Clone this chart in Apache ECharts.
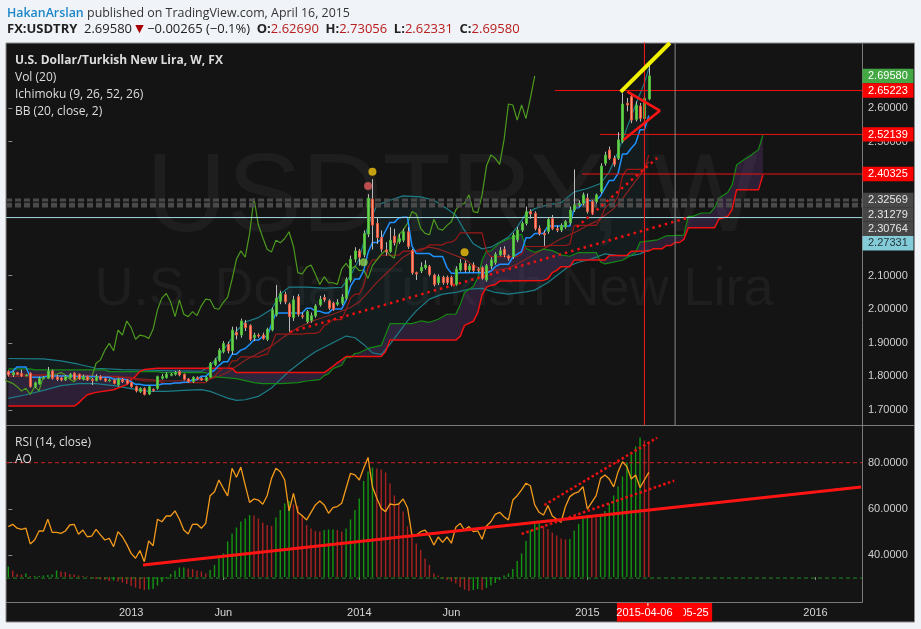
<!DOCTYPE html>
<html>
<head>
<meta charset="utf-8">
<title>USDTRY weekly</title>
<script src="https://cdn.jsdelivr.net/npm/echarts@6/dist/echarts.min.js"></script>
<style>
html,body{margin:0;padding:0;width:921px;height:629px;overflow:hidden;background:#f0f3f7;}
#chart{width:921px;height:629px;}
</style>
</head>
<body>
<div id="chart"></div>
<script>
// ================= DATA (weekly bars, index 0 = first visible week) =================
const opens = [1.814,1.804,1.811,1.808,1.802,1.809,1.769,1.777,1.793,1.794,1.816,1.798,1.795,1.789,1.796,1.809,1.806,1.792,1.799,1.791,1.787,1.799,1.793,1.787,1.789,1.774,1.791,1.789,1.781,1.769,1.754,1.764,1.747,1.761,1.764,1.794,1.796,1.803,1.806,1.814,1.806,1.792,1.784,1.796,1.794,1.787,1.797,1.834,1.847,1.873,1.895,1.876,1.931,1.923,1.958,1.951,1.915,1.923,1.923,1.910,1.938,1.983,2.023,2.044,2.015,1.975,2.037,1.981,1.963,1.966,1.980,2.013,2.035,2.025,2.018,2.015,2.018,2.033,2.087,2.149,2.174,2.162,2.224,2.328,2.256,2.214,2.177,2.172,2.218,2.201,2.206,2.231,2.175,2.109,2.114,2.124,2.127,2.102,2.079,2.095,2.095,2.095,2.074,2.117,2.137,2.117,2.132,2.119,2.124,2.087,2.129,2.139,2.162,2.179,2.159,2.157,2.207,2.236,2.256,2.291,2.286,2.241,2.226,2.232,2.270,2.240,2.236,2.245,2.258,2.296,2.311,2.316,2.331,2.321,2.321,2.351,2.435,2.475,2.450,2.450,2.500,2.614,2.634,2.566,2.606,2.569,2.6269];
const highs = [1.818,1.816,1.813,1.820,1.806,1.812,1.784,1.799,1.800,1.828,1.820,1.804,1.798,1.803,1.810,1.812,1.808,1.805,1.802,1.795,1.806,1.803,1.796,1.793,1.792,1.796,1.795,1.792,1.784,1.772,1.767,1.767,1.772,1.764,1.802,1.806,1.812,1.810,1.816,1.819,1.808,1.795,1.800,1.800,1.797,1.800,1.843,1.855,1.884,1.905,1.903,1.948,1.948,1.972,1.968,1.955,1.930,1.928,1.930,1.945,2.005,2.072,2.055,2.052,2.020,2.040,2.045,1.990,1.998,1.990,2.015,2.040,2.044,2.030,2.022,2.030,2.045,2.095,2.160,2.185,2.180,2.235,2.343,2.388,2.275,2.235,2.200,2.245,2.240,2.225,2.240,2.245,2.180,2.112,2.140,2.146,2.132,2.106,2.104,2.100,2.100,2.100,2.128,2.150,2.145,2.135,2.140,2.125,2.128,2.135,2.155,2.170,2.185,2.188,2.163,2.228,2.245,2.262,2.306,2.298,2.292,2.250,2.235,2.275,2.281,2.250,2.256,2.266,2.306,2.417,2.325,2.348,2.345,2.325,2.345,2.435,2.470,2.485,2.458,2.528,2.644,2.630,2.640,2.620,2.615,2.640,2.73056];
const lows = [1.800,1.798,1.803,1.798,1.800,1.766,1.765,1.775,1.791,1.792,1.790,1.786,1.785,1.786,1.793,1.788,1.789,1.788,1.786,1.774,1.785,1.788,1.783,1.784,1.776,1.770,1.780,1.776,1.766,1.752,1.750,1.743,1.744,1.754,1.760,1.790,1.793,1.800,1.802,1.800,1.788,1.781,1.780,1.789,1.786,1.784,1.794,1.830,1.843,1.868,1.868,1.865,1.910,1.915,1.935,1.905,1.905,1.915,1.909,1.905,1.934,1.978,2.015,2.015,1.933,1.965,1.978,1.972,1.958,1.960,1.975,2.008,2.022,1.998,1.995,2.010,2.012,2.028,2.080,2.140,2.130,2.155,2.215,2.178,2.195,2.170,2.160,2.168,2.190,2.195,2.200,2.180,2.103,2.087,2.108,2.118,2.098,2.068,2.072,2.073,2.073,2.068,2.070,2.112,2.110,2.110,2.110,2.110,2.088,2.082,2.120,2.133,2.158,2.155,2.145,2.150,2.200,2.230,2.250,2.270,2.235,2.220,2.189,2.225,2.236,2.230,2.230,2.240,2.252,2.290,2.305,2.310,2.285,2.282,2.315,2.345,2.428,2.445,2.425,2.445,2.495,2.590,2.555,2.560,2.560,2.560,2.62331];
const closes = [1.804,1.811,1.806,1.801,1.804,1.769,1.781,1.794,1.796,1.816,1.794,1.791,1.789,1.799,1.806,1.791,1.792,1.800,1.789,1.787,1.799,1.791,1.786,1.789,1.779,1.792,1.784,1.779,1.769,1.756,1.764,1.746,1.769,1.757,1.799,1.799,1.806,1.806,1.811,1.804,1.791,1.784,1.797,1.792,1.789,1.797,1.839,1.849,1.878,1.898,1.876,1.938,1.923,1.965,1.945,1.910,1.923,1.920,1.913,1.940,1.998,2.033,2.047,2.022,1.978,2.028,1.985,1.978,1.993,1.981,2.010,2.030,2.028,2.003,2.000,2.020,2.036,2.089,2.149,2.174,2.155,2.226,2.331,2.251,2.214,2.179,2.171,2.206,2.198,2.211,2.231,2.187,2.109,2.105,2.125,2.132,2.104,2.074,2.097,2.079,2.079,2.074,2.120,2.137,2.117,2.129,2.115,2.117,2.092,2.130,2.147,2.164,2.175,2.162,2.152,2.221,2.236,2.256,2.291,2.284,2.241,2.226,2.222,2.268,2.240,2.236,2.250,2.261,2.296,2.311,2.316,2.341,2.291,2.288,2.341,2.427,2.460,2.450,2.432,2.505,2.612,2.609,2.564,2.609,2.569,2.629,2.6958];

// Ichimoku (9, 26, 52, 26) lines as [week where the value starts, value]
const tenkan = [[0,1.809],[1,1.815],[2,1.828],[5,1.797],[9,1.801],[16,1.799],[21,1.797],[24,1.792],[27,1.790],[28,1.784],[29,1.776],[31,1.773],[35,1.777],[36,1.778],[38,1.780],[40,1.782],[42,1.790],[44,1.800],[46,1.812],[47,1.818],[48,1.832],[49,1.843],[51,1.866],[53,1.878],[54,1.883],[55,1.895],[56,1.908],[58,1.919],[60,1.955],[61,1.989],[68,2.003],[70,1.994],[72,1.989],[74,2.001],[77,2.027],[78,2.068],[79,2.090],[81,2.115],[82,2.169],[83,2.199],[85,2.208],[86,2.234],[87,2.259],[89,2.272],[90,2.274],[92,2.189],[93,2.166],[97,2.157],[100,2.124],[101,2.107],[103,2.109],[110,2.113],[111,2.127],[112,2.134],[115,2.155],[116,2.164],[117,2.172],[118,2.213],[120,2.226],[123,2.248],[129,2.303],[131,2.315],[132,2.324],[135,2.338],[136,2.361],[137,2.384],[139,2.405],[140,2.463],[142,2.480],[143,2.495],[144,2.535],[146,2.578]];
const kijun = [[0,1.806],[5,1.804],[10,1.803],[20,1.800],[26,1.797],[29,1.790],[30,1.789],[31,1.786],[35,1.782],[36,1.778],[38,1.780],[39,1.781],[46,1.793],[47,1.799],[48,1.814],[49,1.824],[51,1.846],[53,1.858],[58,1.863],[59,1.866],[60,1.893],[61,1.926],[68,1.928],[71,1.933],[72,1.951],[73,1.958],[74,1.969],[77,2.000],[78,2.033],[79,2.045],[81,2.070],[82,2.124],[83,2.147],[85,2.161],[90,2.173],[94,2.174],[95,2.182],[96,2.192],[100,2.199],[101,2.200],[102,2.208],[103,2.228],[109,2.172],[110,2.157],[117,2.165],[118,2.187],[123,2.189],[124,2.190],[128,2.194],[129,2.250],[135,2.269],[136,2.301],[137,2.315],[139,2.337],[140,2.397],[141,2.417],[146,2.460]];
const senkouA = [[0,1.822],[5,1.822],[6,1.819],[22,1.819],[23,1.814],[34,1.814],[35,1.811],[45,1.811],[46,1.800],[52,1.793],[56,1.781],[58,1.778],[62,1.778],[66,1.781],[68,1.786],[71,1.790],[72,1.802],[73,1.808],[74,1.823],[76,1.833],[77,1.856],[78,1.856],[79,1.868],[80,1.870],[82,1.883],[85,1.892],[86,1.924],[87,1.957],[92,1.957],[94,1.965],[96,1.961],[98,1.970],[100,1.985],[102,1.985],[103,2.013],[104,2.050],[106,2.068],[107,2.093],[108,2.146],[109,2.173],[110,2.174],[112,2.198],[114,2.210],[117,2.224],[118,2.181],[120,2.170],[122,2.179],[124,2.175],[126,2.162],[128,2.158],[130,2.169],[134,2.169],[135,2.141],[136,2.135],[140,2.146],[142,2.161],[143,2.169],[144,2.200],[148,2.207],[150,2.219],[154,2.221],[155,2.277],[156,2.277],[158,2.287],[160,2.287],[161,2.303],[162,2.331],[164,2.349],[165,2.371],[166,2.430],[167,2.440],[168,2.449],[169,2.456],[171,2.476],[172,2.519]];
const senkouB = [[0,1.711],[15,1.711],[16,1.720],[17,1.733],[18,1.745],[20,1.752],[24,1.760],[27,1.775],[28,1.790],[29,1.800],[30,1.815],[31,1.820],[34,1.824],[51,1.824],[52,1.811],[72,1.811],[73,1.820],[74,1.830],[75,1.840],[76,1.849],[77,1.859],[85,1.859],[86,1.874],[87,1.908],[102,1.908],[103,1.919],[104,1.952],[106,1.964],[107,1.989],[108,2.043],[109,2.066],[110,2.071],[111,2.074],[112,2.084],[122,2.086],[123,2.091],[124,2.109],[125,2.116],[126,2.127],[128,2.127],[129,2.147],[136,2.147],[137,2.160],[141,2.160],[142,2.173],[146,2.174],[147,2.180],[149,2.180],[150,2.190],[151,2.190],[152,2.199],[153,2.199],[154,2.208],[155,2.243],[161,2.243],[162,2.269],[164,2.277],[165,2.298],[166,2.356],[171,2.356],[172,2.400]];
const laggingShift = 26;

// Bollinger Bands (20, close, 2), read as [week, value]
const bbUpper = [[0,1.853],[8,1.852],[12,1.846],[16,1.836],[20,1.824],[26,1.820],[32,1.818],[38,1.816],[44,1.815],[46,1.830],[48,1.862],[50,1.895],[52,1.935],[54,1.962],[57,1.975],[60,2.000],[62,2.045],[64,2.066],[68,2.066],[72,2.063],[76,2.065],[78,2.100],[80,2.150],[82,2.250],[84,2.310],[87,2.325],[90,2.338],[94,2.335],[97,2.325],[100,2.300],[102,2.280],[104,2.235],[106,2.195],[108,2.180],[110,2.185],[112,2.200],[114,2.215],[116,2.245],[118,2.285],[120,2.300],[123,2.311],[126,2.318],[129,2.350],[132,2.360],[135,2.375],[137,2.410],[139,2.470],[141,2.540],[143,2.610],[145,2.675],[146,2.718]];
const bbBasis = [[0,1.800],[10,1.801],[20,1.800],[26,1.797],[30,1.792],[36,1.786],[42,1.787],[46,1.792],[48,1.800],[50,1.812],[52,1.830],[54,1.848],[56,1.862],[58,1.875],[60,1.890],[62,1.910],[64,1.928],[66,1.945],[70,1.968],[74,1.985],[78,2.005],[80,2.022],[82,2.050],[84,2.080],[86,2.105],[88,2.130],[90,2.155],[92,2.170],[94,2.180],[96,2.185],[98,2.180],[100,2.170],[102,2.160],[104,2.150],[106,2.130],[108,2.118],[110,2.115],[112,2.118],[114,2.122],[116,2.135],[118,2.150],[120,2.165],[122,2.180],[124,2.195],[126,2.210],[128,2.222],[130,2.235],[132,2.250],[134,2.262],[136,2.280],[138,2.300],[140,2.330],[142,2.365],[144,2.400],[146,2.440]];
const bbLower = [[0,1.734],[4,1.745],[8,1.758],[12,1.772],[16,1.778],[20,1.778],[24,1.772],[28,1.763],[32,1.755],[36,1.755],[40,1.758],[44,1.760],[46,1.755],[48,1.745],[50,1.735],[52,1.728],[54,1.730],[57,1.740],[60,1.765],[62,1.790],[64,1.815],[66,1.835],[68,1.855],[70,1.873],[74,1.900],[77,1.920],[79,1.915],[81,1.895],[83,1.870],[85,1.865],[87,1.895],[89,1.930],[91,1.965],[93,1.995],[96,2.030],[99,2.045],[102,2.050],[105,2.060],[108,2.062],[111,2.050],[114,2.045],[118,2.052],[120,2.057],[123,2.080],[126,2.110],[128,2.130],[130,2.140],[133,2.150],[136,2.165],[139,2.160],[142,2.160],[144,2.165],[146,2.177]];

// RSI (14, close) and Awesome Oscillator, one value per week
const rsi = [52.3,53.3,51.6,51.1,51.6,44.8,46.5,50.4,50.4,55.5,49.8,49.8,49.4,50.4,53.0,53.3,49.0,50.8,47.9,48.2,51.1,48.7,46.5,47.2,43.6,50.1,47.9,44.6,40.7,38.6,41.9,37.1,46.1,44.0,55.5,54.4,56.9,56.9,59.1,55.5,50.8,49.1,53.3,53.4,51.6,53.7,65.7,67.4,72.5,68.9,65.6,77.6,73.7,78.1,70.3,62.8,64.3,63.8,62.0,65.7,73.2,77.6,76.1,72.5,59.1,66.7,58.5,57.0,55.2,58.5,61.7,63.4,61.7,58.1,60.5,61.0,62.4,68.9,75.4,74.7,72.5,77.6,82.3,69.6,64.6,60.2,58.8,62.1,61.7,62.1,64.3,60.5,48.7,48.7,50.1,50.8,48.2,44.3,47.8,45.5,47.8,45.1,52.0,53.7,50.8,52.3,50.1,50.5,46.8,52.6,54.4,57.6,58.5,56.6,55.2,63.8,65.7,68.2,71.1,70.0,61.7,58.5,57.3,61.4,56.9,55.5,54.2,61.0,65.3,66.7,67.4,69.6,59.9,62.8,65.7,73.2,74.7,72.9,69.5,76.1,80.4,78.3,72.9,74.7,69.2,72.5,75.8];
const ao = [0.021,0.013,0.006,0.005,0.007,0.002,0.002,0.002,0.003,0.004,0.005,0.013,0.011,0.010,0.006,0.005,0.003,0.002,0.001,-0.002,-0.004,-0.005,-0.006,-0.008,-0.007,-0.009,-0.011,-0.014,-0.018,-0.021,-0.024,-0.026,-0.025,-0.024,-0.017,-0.010,-0.003,0.006,0.013,0.019,0.019,0.017,0.016,0.013,0.011,0.007,0.014,0.024,0.039,0.047,0.071,0.087,0.099,0.111,0.117,0.124,0.123,0.117,0.109,0.104,0.102,0.119,0.134,0.147,0.152,0.145,0.142,0.124,0.104,0.097,0.092,0.091,0.094,0.095,0.095,0.094,0.091,0.097,0.115,0.134,0.157,0.192,0.211,0.219,0.217,0.215,0.209,0.187,0.163,0.147,0.131,0.101,0.084,0.067,0.054,0.037,0.024,0.007,0.003,-0.003,-0.006,-0.009,-0.013,-0.020,-0.025,-0.028,-0.026,-0.024,-0.026,-0.022,-0.017,-0.012,-0.006,0.003,0.007,0.016,0.032,0.047,0.072,0.094,0.106,0.109,0.102,0.096,0.089,0.083,0.077,0.075,0.076,0.093,0.106,0.119,0.123,0.121,0.119,0.125,0.132,0.147,0.163,0.181,0.201,0.229,0.249,0.261,0.279,0.273,0.271];

// Axis ticks
const timeTickWeeks = [28,49,80,101,132,184];
const timeTickLabels = ['2013','Jun','2014','Jun','2015','2016'];
const priceTicks = [1.7,1.8,1.9,2.0,2.1,2.5,2.6];
const rsiTicks = [40,60,80];

// Price scale tags on the right
const priceTagValues = [2.69580,2.65223,2.52139,2.40325,2.32569,2.31279,2.30764,2.27331];

// Drawings (week, price) / (week, rsi)
const redLevels = [[124.6,2.65223],[134.9,2.52139],[130.8,2.40325]];
const grayLevels = [2.32569,2.31279,2.30764];
const cyanLevel = 2.27331;
const vRedWeek = 145, vGrayWeek = 152;
const dateLabels = ['2015-04-06','2015-05-25'];
const yellowLine = [[139.6,2.648],[150.8,2.794]];
const redWedge = [[141.1,2.6488],[148.5,2.5921],[140.2,2.5047]];
const mainDotted1 = [[64.2,1.932],[154.7,2.272]];
const mainDotted2 = [[129.6,2.245],[147.9,2.451]];
const dotsYellow = [[83,2.410],[104,2.170]];
const dotsRed = [[82,2.3675]];
const dotsGreen = [[81,2.140]];
const rsiUpperBand = 80, rsiLowerBand = 30;
const rsiTrend = [[30.7,35.67],[194.4,69.47]];
const rsiDotUpper = [[122.2,61.67],[147.9,90.83]];
const rsiDotLower = [[117.0,49.1],[151.8,72.2]];

// ================= CHART =================
const X_MIN = -0.53, X_MAX = 194.6;
const P_MIN = 1.6547, P_MAX = 2.7940;
const R_MIN = 19.63, R_MAX = 95.90;
const A_MIN = -0.050, A_MAX = 0.302;
const FONT = '"Open Sans", "Noto Sans", sans-serif';
const AXFONT = '"Liberation Sans", Arial, sans-serif';

const chart = echarts.init(document.getElementById('chart'), null, {renderer:'canvas'});

// TradingView joins consecutive bar values: a level holds until the bar before the next change
function barSteps(points) {
  const out = [];
  points.forEach(function(p, k){
    out.push(p);
    const nxt = points[k + 1];
    if (nxt && nxt[0] - 1 > p[0]) out.push([nxt[0] - 1, p[1]]);
  });
  return out;
}
function ln(data, color, width, extra) {
  extra = extra || {};
  return Object.assign({
    type:'line', data:data, xAxisIndex:0, yAxisIndex:0, symbol:'none', showSymbol:false,
    silent:true, animation:false, z:3,
    lineStyle:{color:color, width:width, type:extra.dash || 'solid', cap:'butt'}
  }, extra.opts || {});
}
function band(upper, lower, fill, z) {
  return {
    type:'custom', xAxisIndex:0, yAxisIndex:0, clip:true, silent:true, z:z, animation:false,
    data:[[upper[0][0], upper[0][1]]],
    renderItem:function(params, api){
      const pts = upper.map(p => api.coord(p)).concat(lower.slice().reverse().map(p => api.coord(p)));
      return {type:'polygon', shape:{points:pts}, style:{fill:fill}};
    }
  };
}

const candleData = closes.map((c,k) => [k, opens[k], highs[k], lows[k], c]);
const chikou = closes.map((c,k) => [k - laggingShift, c]);
const tenkanLine = barSteps(tenkan);
const kijunLine = barSteps(kijun);

const series = [
  band(bbUpper, bbLower, 'rgba(30,140,150,0.07)', 1),
  band(senkouA, senkouB, 'rgba(110,60,140,0.28)', 1),
  ln(bbUpper, '#1c7d89', 1.2),
  ln(bbLower, '#1c7d89', 1.2),
  ln(bbBasis, '#8c2222', 1.2),
  ln(senkouA, '#138a13', 1.2),
  ln(senkouB, '#f01010', 1.5),
  ln(kijunLine, '#9a1818', 1.2),
  ln(chikou, '#4c9a1e', 1.2),
  ln(tenkanLine, '#1e90ff', 1.5),
  // horizontal levels
  ...grayLevels.map(v => ln([[X_MIN,v],[X_MAX,v]], '#4a4a4a', 3, {dash:[6,3]})),
  ln([[X_MIN,cyanLevel],[X_MAX,cyanLevel]], '#a6dbe6', 1),
  ...redLevels.map(p => ln([[p[0],p[1]],[X_MAX,p[1]]], '#f01010', 1)),
  ln(mainDotted1, '#ee1111', 2.5, {dash:[2.5,4]}),
  ln(mainDotted2, '#ee1111', 2.5, {dash:[2.5,4]}),
  // candles
  {
    type:'custom', xAxisIndex:0, yAxisIndex:0, clip:true, silent:true, z:5, animation:false,
    data:candleData, encode:{x:0, y:[1,2,3,4]},
    renderItem:function(params, api){
      const i = api.value(0), o = api.value(1), h = api.value(2), l = api.value(3), c = api.value(4);
      const pO = api.coord([i,o]), pH = api.coord([i,h]), pL = api.coord([i,l]), pC = api.coord([i,c]);
      const up = c >= o;
      const cx = Math.round(pO[0]);
      const top = Math.min(pO[1], pC[1]);
      const hgt = Math.max(1, Math.abs(pO[1] - pC[1]));
      return {type:'group', children:[
        {type:'line', shape:{x1:cx+0.5, y1:pH[1], x2:cx+0.5, y2:pL[1]}, style:{stroke:'#bcbcbc', lineWidth:1}},
        {type:'rect', shape:{x:cx-0.5, y:top, width:2, height:hgt},
          style:{fill: up ? '#6bd24f' : '#f7947c', stroke: up ? '#4cb53a' : '#e5573d', lineWidth:1}}
      ]};
    }
  },
  // vertical lines & drawings
  ln([[vRedWeek,P_MIN-1],[vRedWeek,P_MAX+1]], '#ff1a1a', 1, {opts:{z:6}}),
  ln([[vGrayWeek,P_MIN-1],[vGrayWeek,P_MAX+1]], '#8a8a8a', 1, {opts:{z:6}}),
  ln(yellowLine, '#f2f200', 4, {opts:{z:7}}),
  ln(redWedge, '#ff1414', 2.5, {opts:{z:7}}),
  {type:'scatter', xAxisIndex:0, yAxisIndex:0, data:dotsYellow, symbolSize:8, itemStyle:{color:'#f3c20c'}, silent:true, z:7, animation:false},
  {type:'scatter', xAxisIndex:0, yAxisIndex:0, data:dotsRed, symbolSize:8, itemStyle:{color:'#e25a5a'}, silent:true, z:7, animation:false},
  {type:'scatter', xAxisIndex:0, yAxisIndex:0, data:dotsGreen, symbolSize:8, itemStyle:{color:'#8ccf4c'}, silent:true, z:7, animation:false},
  // ---------- lower pane ----------
  {
    type:'bar', xAxisIndex:1, yAxisIndex:2, data:ao.map((v,k)=>[k,v]), barWidth:1.4, silent:true, z:2, animation:false,
    itemStyle:{color:function(p){ const k = p.dataIndex; return (k > 0 && ao[k] < ao[k-1]) ? '#a82222' : '#129612'; }}
  },
  ln([[X_MIN,rsiUpperBand],[X_MAX,rsiUpperBand]], '#d02020', 1, {dash:[4,3], opts:{xAxisIndex:1, yAxisIndex:1}}),
  ln([[X_MIN,rsiLowerBand],[X_MAX,rsiLowerBand]], '#1f8a1f', 1, {dash:[4,3], opts:{xAxisIndex:1, yAxisIndex:1}}),
  ln(rsi.map((v,k)=>[k,v]), '#f39a1b', 1.3, {opts:{xAxisIndex:1, yAxisIndex:1, z:4}}),
  ln(rsiTrend, '#ff1414', 3, {opts:{xAxisIndex:1, yAxisIndex:1, z:5}}),
  ln(rsiDotUpper, '#ee1111', 2.5, {dash:[2.5,2.5], opts:{xAxisIndex:1, yAxisIndex:1, z:5}}),
  ln(rsiDotLower, '#ee1111', 2.5, {dash:[2.5,2.5], opts:{xAxisIndex:1, yAxisIndex:1, z:5}})
];

const staticGraphic = [
  // dark chart frame
  {type:'rect', z:-100, silent:true, shape:{x:6, y:43, width:908.5, height:579}, style:{fill:'#141414', stroke:'#8c8c8c', lineWidth:1}},
  // watermark
  {type:'text', z:-90, silent:true, x:452, y:200, style:{text:'USDTRY, W', fill:'rgba(255,255,255,0.045)', font:'112px "Liberation Sans", Arial, sans-serif', align:'center', verticalAlign:'middle'}},
  {type:'text', z:-90, silent:true, x:434, y:290, style:{text:'U.S. Dollar/Turkish New Lira', fill:'rgba(255,255,255,0.045)', font:'54px "Liberation Sans", Arial, sans-serif', align:'center', verticalAlign:'middle'}},
  // separators
  {type:'line', z:50, silent:true, shape:{x1:6, y1:425.5, x2:914, y2:425.5}, style:{stroke:'#7a7a7a', lineWidth:1}},
  {type:'line', z:50, silent:true, shape:{x1:862.5, y1:43, x2:862.5, y2:602.5}, style:{stroke:'#7a7a7a', lineWidth:1}},
  {type:'line', z:50, silent:true, shape:{x1:6, y1:602.5, x2:862.5, y2:602.5}, style:{stroke:'#7a7a7a', lineWidth:1}},
  // header
  {type:'text', z:60, silent:true, x:7, y:13, style:{
    text:'{a|HakanArslan} {b|published on TradingView.com, April 16, 2015}', verticalAlign:'middle',
    rich:{a:{fill:'#1b87c9', fontSize:12.4, fontWeight:600, fontFamily:FONT}, b:{fill:'#333333', fontSize:12.4, fontFamily:FONT}}}},
  {type:'text', z:60, silent:true, x:7, y:29, style:{
    text:'{k|FX:USDTRY}  {v|2.69580} {t|▼} {v|−0.00265 (−0.1%)}  {k|O:}{r|2.62690}  {k|H:}{r|2.73056}  {k|L:}{r|2.62331}  {k|C:}{r|2.69580}', verticalAlign:'middle',
    rich:{k:{fill:'#222', fontSize:13, fontWeight:700, fontFamily:FONT}, v:{fill:'#222', fontSize:13, fontFamily:FONT},
          t:{fill:'#a80000', fontSize:11, fontFamily:'"DejaVu Sans", sans-serif'}, r:{fill:'#b81c1c', fontSize:13, fontFamily:FONT}}}},
  // legends
  {type:'text', z:60, silent:true, x:15, y:61, style:{text:'U.S. Dollar/Turkish New Lira, W, FX', fill:'#dddddd', font:'bold 12px ' + FONT, verticalAlign:'middle'}},
  {type:'text', z:60, silent:true, x:15, y:78, style:{text:'Vol (20)', fill:'#dddddd', font:'12px ' + FONT, verticalAlign:'middle'}},
  {type:'text', z:60, silent:true, x:15, y:95, style:{text:'Ichimoku (9, 26, 52, 26)', fill:'#dddddd', font:'12px ' + FONT, verticalAlign:'middle'}},
  {type:'text', z:60, silent:true, x:15, y:112, style:{text:'BB (20, close, 2)', fill:'#dddddd', font:'12px ' + FONT, verticalAlign:'middle'}},
  {type:'text', z:60, silent:true, x:15, y:443, style:{text:'RSI (14, close)', fill:'#dddddd', font:'12px ' + FONT, verticalAlign:'middle'}},
  {type:'text', z:60, silent:true, x:15, y:460, style:{text:'AO', fill:'#dddddd', font:'12px ' + FONT, verticalAlign:'middle'}}
];

const option = {
  animation:false,
  backgroundColor:'#f0f3f7',
  grid:[
    {left:6, top:43, width:856, height:382, outerBoundsMode:'none'},
    {left:6, top:426, width:856, height:176, outerBoundsMode:'none'}
  ],
  xAxis:[
    {type:'value', gridIndex:0, min:X_MIN, max:X_MAX, show:false},
    {type:'value', gridIndex:1, min:X_MIN, max:X_MAX, axisLine:{show:false}, splitLine:{show:false},
      axisTick:{show:true, customValues:timeTickWeeks, length:3, lineStyle:{color:'#8a8a8a'}},
      axisLabel:{customValues:timeTickWeeks, formatter:function(v){ const k = timeTickWeeks.indexOf(v); return k >= 0 ? timeTickLabels[k] : ''; },
        color:'#d6d6d6', fontSize:11, fontFamily:AXFONT, margin:5}}
  ],
  yAxis:[
    {type:'value', gridIndex:0, position:'right', min:P_MIN, max:P_MAX, axisLine:{show:false}, splitLine:{show:false},
      axisTick:{show:true, customValues:priceTicks, length:4, lineStyle:{color:'#8a8a8a'}},
      axisLabel:{customValues:priceTicks, formatter:function(v){ return v.toFixed(5); }, color:'#cfcfcf', fontSize:11, fontFamily:AXFONT, margin:6}},
    {type:'value', gridIndex:1, position:'right', min:R_MIN, max:R_MAX, axisLine:{show:false}, splitLine:{show:false},
      axisTick:{show:true, customValues:rsiTicks, length:4, lineStyle:{color:'#8a8a8a'}},
      axisLabel:{customValues:rsiTicks, formatter:function(v){ return v.toFixed(4); }, color:'#cfcfcf', fontSize:11, fontFamily:AXFONT, margin:6}},
    {type:'value', gridIndex:1, position:'right', min:A_MIN, max:A_MAX, show:false}
  ],
  series:series,
  graphic:staticGraphic
};
chart.setOption(option);

// ---- price tags and date tags placed through the axes ----
const tagKinds = ['last','alert','alert','alert','level','level','level','line'];
const tagFill = {last:'#43a843', alert:'#ff0000', level:'#474747', line:'#84cbd8'};
const tagText = {last:'#ffffff', alert:'#ffffff', level:'#e6e6e6', line:'#24343a'};
const dyn = [];
let prevBottom = -1e9;
priceTagValues.forEach(function(v, k){
  const y = chart.convertToPixel({yAxisIndex:0}, v);
  let top = y - 7.2;
  if (top < prevBottom) top = prevBottom;
  prevBottom = top + 14.4;
  const kind = tagKinds[k];
  dyn.push({type:'rect', z:80, silent:true, shape:{x:862.5, y:top, width:51, height:14.4}, style:{fill:tagFill[kind]}});
  dyn.push({type:'text', z:81, silent:true, x:868, y:top + 7.4, style:{text:v.toFixed(5), fill:tagText[kind], font:'11px ' + AXFONT, verticalAlign:'middle'}});
});
const xr = chart.convertToPixel({xAxisIndex:1}, vRedWeek);
const xg = chart.convertToPixel({xAxisIndex:1}, vGrayWeek);
// later date tag first, the earlier one drawn over it (as TradingView stacks them)
dyn.push({type:'rect', z:80, silent:true, shape:{x:xg - 29, y:603, width:66, height:18.5}, style:{fill:'#ff0000'}});
dyn.push({type:'text', z:81, silent:true, x:xg + 33.5, y:612.5, style:{text:dateLabels[1], fill:'#ffffff', font:'11px ' + AXFONT, align:'right', verticalAlign:'middle'}});
dyn.push({type:'rect', z:82, silent:true, shape:{x:xr - 27.5, y:603, width:66.5, height:18.5}, style:{fill:'#ff0000'}});
dyn.push({type:'text', z:83, silent:true, x:xr, y:612.5, style:{text:dateLabels[0], fill:'#ffffff', font:'11px ' + AXFONT, align:'center', verticalAlign:'middle'}});
dyn.push({type:'line', z:84, silent:true, shape:{x1:xr + 3.5, y1:603, x2:xr + 3.5, y2:606}, style:{stroke:'#ffffff', lineWidth:1}});
chart.setOption({graphic: staticGraphic.concat(dyn)});
</script>
</body>
</html>
